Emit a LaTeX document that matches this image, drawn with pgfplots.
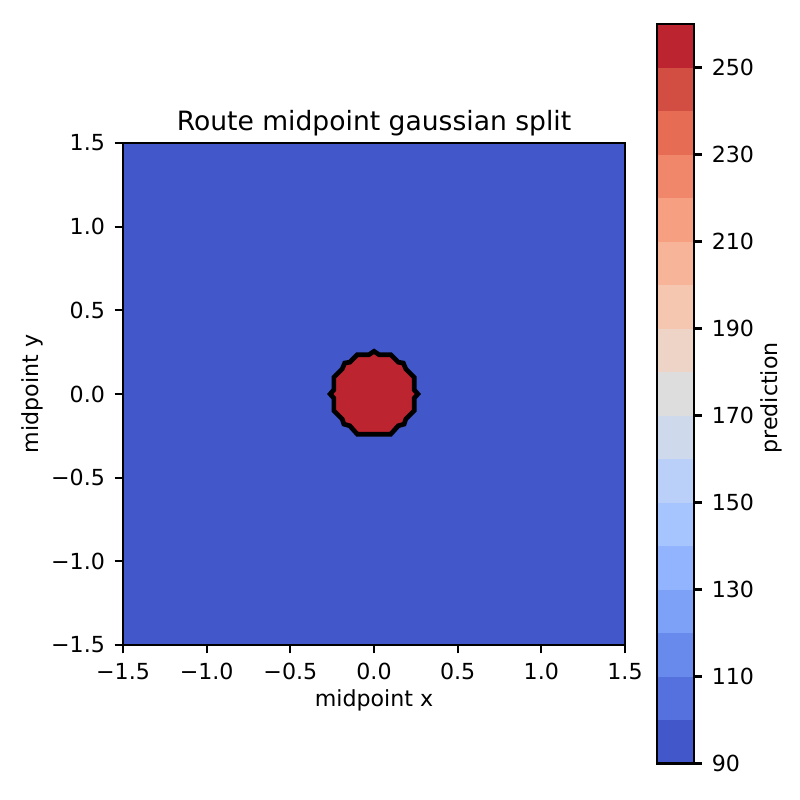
\documentclass[border=0pt]{standalone}
\usepackage{pgfplots}
\pgfplotsset{compat=1.18}
\usepackage{fontspec}
\setmainfont{DejaVu Sans}
\definecolor{c0}{RGB}{66,87,202}
\definecolor{c1}{RGB}{85,113,222}
\definecolor{c2}{RGB}{103,138,236}
\definecolor{c3}{RGB}{126,161,248}
\definecolor{c4}{RGB}{146,180,254}
\definecolor{c5}{RGB}{166,197,254}
\definecolor{c6}{RGB}{186,208,248}
\definecolor{c7}{RGB}{206,218,236}
\definecolor{c8}{RGB}{221,221,221}
\definecolor{c9}{RGB}{237,212,199}
\definecolor{c10}{RGB}{245,198,176}
\definecolor{c11}{RGB}{247,180,153}
\definecolor{c12}{RGB}{246,160,129}
\definecolor{c13}{RGB}{240,135,107}
\definecolor{c14}{RGB}{230,109,84}
\definecolor{c15}{RGB}{211,78,66}
\definecolor{c16}{RGB}{188,36,48}
\newcommand{\band}[2]{\addplot[fill=#2,draw=none,forget plot] coordinates {(0,#1) (1,#1) (1,#1+10) (0,#1+10)} -- cycle;}
\begin{document}
\begin{tikzpicture}
\useasboundingbox (0pt,0pt) rectangle (289.08pt,289.08pt);
\pgfplotsset{every axis/.style={
  scale only axis, axis on top, anchor=south west,
  tick align=outside, major tick length=3pt,
  axis line style={line width=0.8pt,black},
  every tick/.style={line width=0.8pt,black},
  tick label style={font=\fontsize{8}{10}\selectfont},
  label style={font=\fontsize{8}{10}\selectfont},
}}
\begin{axis}[
  at={(44.45pt,56.01pt)}, width=181.4pt, height=181.4pt,
  xmin=-1.5,xmax=1.5,ymin=-1.5,ymax=1.5,
  tick pos=left,
  xtick={-1.5,-1,-0.5,0,0.5,1,1.5},
  ytick={-1.5,-1,-0.5,0,0.5,1,1.5},
  xticklabels={−1.5,−1.0,−0.5,0.0,0.5,1.0,1.5},
  yticklabels={−1.5,−1.0,−0.5,0.0,0.5,1.0,1.5},
  xlabel={midpoint x}, ylabel={midpoint y},
  title={Route midpoint gaussian split},
  title style={font=\fontsize{9.6}{12}\selectfont,yshift=-7pt},
  xlabel style={yshift=3.25pt},
  ylabel style={yshift=-4pt},
]
\addplot[fill=c0,draw=none] coordinates {(-1.5,-1.5) (1.5,-1.5) (1.5,1.5) (-1.5,1.5)} -- cycle;
\addplot[fill=c16,draw=black,line width=1.7pt,miter limit=10] coordinates {
(0,0.255) (0.03,0.235) (0.10,0.235) (0.145,0.19) (0.175,0.185) (0.19,0.15) (0.24,0.10) (0.24,0.025) (0.262,0)
(0.24,-0.025) (0.24,-0.10) (0.19,-0.15) (0.18,-0.18) (0.145,-0.19) (0.10,-0.24) (-0.10,-0.24)
(-0.145,-0.19) (-0.18,-0.18) (-0.19,-0.15) (-0.24,-0.10) (-0.24,-0.025) (-0.262,0)
(-0.24,0.025) (-0.24,0.10) (-0.19,0.15) (-0.175,0.185) (-0.145,0.19) (-0.10,0.235) (-0.03,0.235)} -- cycle;
\end{axis}
\begin{axis}[
  at={(237.4pt,13.19pt)}, width=13.26pt, height=267.2pt,
  xmin=0,xmax=1,ymin=90,ymax=260,
  xtick=\empty,
  ytick={90,110,130,150,170,190,210,230,250},
  yticklabels={90,110,130,150,170,190,210,230,250},
  ytick pos=right, yticklabel pos=right,
  ylabel={prediction},
  ylabel style={anchor=north,at={(rel axis cs:1,0.5)},rotate=0,xshift=-1.5pt,yshift=-20.7pt,font=\fontsize{8}{10}\selectfont},
]
\band{90}{c0}\band{100}{c1}\band{110}{c2}\band{120}{c3}\band{130}{c4}\band{140}{c5}
\band{150}{c6}\band{160}{c7}\band{170}{c8}\band{180}{c9}\band{190}{c10}\band{200}{c11}
\band{210}{c12}\band{220}{c13}\band{230}{c14}\band{240}{c15}\band{250}{c16}
\end{axis}
\end{tikzpicture}
\end{document}
